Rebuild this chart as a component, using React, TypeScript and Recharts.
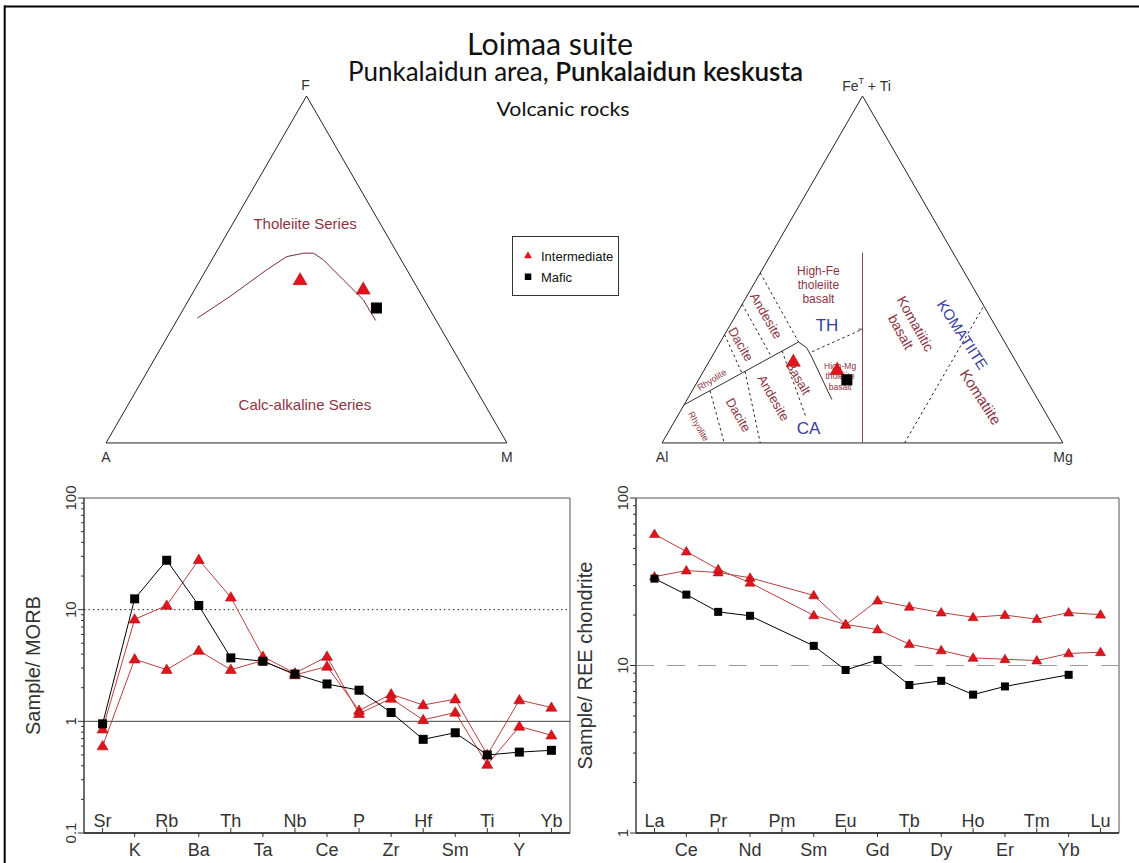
import React from 'react';
import {
  LineChart,
  Line,
  XAxis,
  YAxis,
  ReferenceLine,
  ReferenceArea,
  ScatterChart,
  Scatter,
  Label,
} from 'recharts';

const FONT = '"Liberation Sans", Arial, sans-serif';
const TITLE_FONT = 'Lato, "Open Sans", sans-serif';
const INK = '#333';
const RED = '#e0141c';
const RED_EDGE = '#a31212';
const RED_LINE = '#b8403f';
const FIELD_RED = '#8c3446';
const FIELD_BLUE = '#3b3b9e';

// ---- MORB-normalised spider diagram (left, bottom)
const morbElements = ['Sr', 'K', 'Rb', 'Ba', 'Th', 'Ta', 'Nb', 'Ce', 'P', 'Zr', 'Hf', 'Sm', 'Ti', 'Y', 'Yb'];
const morbMafic = [0.95, 12.5, 27.7, 10.9, 3.7, 3.45, 2.65, 2.16, 1.9, 1.2, 0.69, 0.79, 0.5, 0.53, 0.55];
const morbIntA = [0.85, 8.2, 10.9, 28, 12.9, 3.8, 2.7, 3.8, 1.17, 1.6, 1.03, 1.2, 0.41, 0.9, 0.75];
const morbIntB = [0.6, 3.6, 2.9, 4.3, 2.9, 3.5, 2.6, 3.1, 1.25, 1.75, 1.4, 1.58, 0.5, 1.55, 1.33];

// ---- chondrite-normalised REE diagram (right, bottom)
const reeElements = ['La', 'Ce', 'Pr', 'Nd', 'Pm', 'Sm', 'Eu', 'Gd', 'Tb', 'Dy', 'Ho', 'Er', 'Tm', 'Yb', 'Lu'];
const reeMafic = [33, 26.5, 20.9, 19.8, null, 13.1, 9.4, 10.8, 7.65, 8.1, 6.7, 7.5, null, 8.8, null];
const reeIntA = [60.8, 47.9, 37.5, 31.2, null, 19.9, 17.6, 16.4, 13.4, 12.3, 11.1, 10.9, 10.7, 11.8, 12];
const reeIntB = [33.9, 36.9, 35.9, 33.4, null, 26.2, 17.5, 24.4, 22.4, 20.7, 19.4, 20, 18.9, 20.7, 20.1];

// ---- AFM diagram, [A, F, M] %
type Tern = [number, number, number];
const afmApices = ['A', 'F', 'M'];
const afmBoundary: Tern[] = [
  [59.2, 36, 4.8], [48, 42.2, 9.8], [35, 49.9, 15.1], [28.1, 53.7, 18.2], [23.4, 54.7, 21.9],
  [20.9, 54.7, 24.4], [19.4, 52.8, 27.8], [17.3, 47, 35.7], [15.2, 41.3, 43.5], [15.1, 35.3, 49.6],
];
const afmIntermediate: Tern[] = [[28.1, 47, 24.9], [13.7, 44.3, 42]];
const afmMafic: Tern[] = [[13.1, 38.9, 48]];
const afmFields = [
  { text: ['Tholeiite Series'], at: [18.7, 63.3, 18] as Tern },
  { text: ['Calc-alkaline Series'], at: [44.9, 11, 44.1] as Tern },
];

// ---- Jensen cation plot, [Al, FeT+Ti, Mg] %
const jensenApices = ['Al', 'FeT+Ti', 'Mg'];
const jensenThCa: Tern[] = [[89, 11, 0], [51.4, 29.1, 19.5], [50.2, 27.4, 22.4], [50.3, 24.6, 25.1], [51.4, 12.5, 36.1]];
const jensenAlMg: Tern[] = [[50, 0, 50], [22.6, 54.8, 22.6]];
const jensenTick: Tern[] = [[33.6, 32.8, 33.6], [34.6, 32.8, 32.6]];
const jensenDashed: Tern[][] = [
  [[51, 49, 0], [51.4, 29.1, 19.5]],
  [[60, 40, 0], [60.3, 24.8, 14.9]],
  [[68.8, 31.2, 0], [70, 20.1, 9.9]],
  [[80.5, 15, 4.5], [84.5, 0, 15.5]],
  [[69, 20.6, 10.4], [75.5, 0, 24.5]],
  [[56.8, 26.5, 16.7], [60.4, 7.3, 32.3]],
  [[49.4, 26.3, 24.3], [33.6, 32.8, 33.6]],
  [[39.5, 0, 60.5], [0, 39.5, 60.5]],
];
const jensenIntermediate: Tern[] = [[55.5, 23.5, 21], [45.8, 21.1, 33.1]];
const jensenMafic: Tern[] = [[44.8, 18.2, 37]];
const jensenFields = [
  { text: ['High-Fe', 'tholeiite', 'basalt'], at: [38.2, 45.6, 16.2] as Tern },
  { text: ['TH'], at: [41.8, 34.1, 24.1] as Tern },
  { text: ['CA'], at: [61.3, 4.3, 34.4] as Tern },
  { text: ['Andesite'], at: [55.8, 36.7, 7.6] as Tern },
  { text: ['Dacite'], at: [66.1, 28.5, 5.4] as Tern },
  { text: ['Rhyolite'], at: [78.4, 18.2, 3.3] as Tern },
  { text: ['Basalt'], at: [56.6, 18.7, 24.7] as Tern },
  { text: ['Andesite'], at: [65.7, 13, 21.3] as Tern },
  { text: ['Dacite'], at: [76.9, 8.1, 15] as Tern },
  { text: ['Rhyolite'], at: [88.5, 4.8, 6.7] as Tern },
  { text: ['High-Mg', 'tholeiite', 'basalt'], at: [45.9, 19.2, 34.8] as Tern },
  { text: ['Komatiitic', 'basalt'], at: [22, 33.2, 44.8] as Tern },
  { text: ['KOMATIITE'], at: [9.5, 31.2, 59.3] as Tern },
  { text: ['Komatiite'], at: [13.9, 13.2, 72.9] as Tern },
];

// look of the field labels, same order as above
type Look = { size: number; angle: number; blue?: boolean };
const afmLook: Look[] = [
  { size: 15, angle: 0 },
  { size: 15, angle: 0 },
];
const jensenLook: Look[] = [
  { size: 12, angle: 0 },
  { size: 17, angle: 0, blue: true },
  { size: 17, angle: 0, blue: true },
  { size: 13, angle: 60 },
  { size: 13, angle: 60 },
  { size: 9, angle: -32 },
  { size: 13, angle: 60 },
  { size: 13, angle: 60 },
  { size: 13, angle: 60 },
  { size: 9, angle: 60 },
  { size: 8.5, angle: 0 },
  { size: 14, angle: 61 },
  { size: 15, angle: 57, blue: true },
  { size: 15, angle: 57 },
];

const TRI_H = Math.sqrt(3) / 2;
const toXY = (p: Tern) => ({ x: (p[2] + p[1] / 2) / 100, y: (p[1] / 100) * TRI_H });

const NoShape = () => <g />;

const triangle = (cx: number, cy: number, w: number, h: number) =>
  `${cx},${cy - h * 0.6} ${cx - w / 2},${cy + h * 0.4} ${cx + w / 2},${cy + h * 0.4}`;

const TriMarker = (w: number, h: number) => (p: any) => (
  <polygon points={triangle(p.cx, p.cy, w, h)} fill={RED} stroke={RED_EDGE} strokeWidth={0.6} />
);
const SqMarker = (s: number) => (p: any) => (
  <rect x={p.cx - s / 2} y={p.cy - s / 2} width={s} height={s} fill="#000" />
);

const fieldShape = (look: Look[]) => (p: any) => {
  const { cx, cy, payload } = p;
  const lk = look[payload.k];
  const n = payload.text.length;
  const lh = lk.size * 1.2;
  return (
    <text
      transform={`translate(${cx},${cy}) rotate(${lk.angle})`}
      textAnchor="middle"
      fontSize={lk.size}
      fill={lk.blue ? FIELD_BLUE : FIELD_RED}
    >
      {payload.text.map((t: string, i: number) => (
        <tspan key={i} x={0} y={(i - (n - 1) / 2) * lh + lk.size * 0.35}>
          {t}
        </tspan>
      ))}
    </text>
  );
};

const apexShape = (p: any) => {
  const { cx, cy, payload } = p;
  const name: string = payload.name;
  if (payload.pos === 'top') {
    if (name === 'FeT+Ti') {
      return (
        <text x={cx + 4} y={cy - 5} textAnchor="middle" fontSize={14} fill={INK}>
          Fe<tspan dy={-7} fontSize={9}>T</tspan>
          <tspan dy={7}> + Ti</tspan>
        </text>
      );
    }
    return (
      <text x={cx - 1} y={cy - 6} textAnchor="middle" fontSize={14} fill={INK}>
        {name}
      </text>
    );
  }
  return (
    <text x={cx} y={cy + 19} textAnchor="middle" fontSize={14} fill={INK}>
      {name}
    </text>
  );
};

const polyline = (points: Tern[], key: string, stroke: string, dash?: string) => (
  <Scatter
    key={key}
    data={points.map(toXY)}
    line={{ stroke, strokeWidth: 1, strokeDasharray: dash }}
    lineType="joint"
    shape={NoShape}
    isAnimationActive={false}
  />
);

function Ternary(props: {
  left: number;
  apices: string[];
  fields: { text: string[]; at: Tern }[];
  look: Look[];
  intermediate: Tern[];
  mafic: Tern[];
  children?: React.ReactNode;
}) {
  const outline: Tern[] = [[100, 0, 0], [0, 100, 0], [0, 0, 100], [100, 0, 0]];
  const apexData = [
    { ...toXY([100, 0, 0]), name: props.apices[0], pos: 'left' },
    { ...toXY([0, 100, 0]), name: props.apices[1], pos: 'top' },
    { ...toXY([0, 0, 100]), name: props.apices[2], pos: 'right' },
  ];
  const fieldData = props.fields.map((f, k) => ({ ...toXY(f.at), text: f.text, k }));
  return (
    <div style={{ position: 'absolute', left: props.left, top: 76 }}>
      <ScatterChart width={441} height={407} margin={{ top: 0, right: 0, bottom: 0, left: 0 }}>
        <XAxis type="number" dataKey="x" domain={[-0.05, 1.05]} hide />
        <YAxis type="number" dataKey="y" domain={[-0.1, TRI_H + 0.05]} hide />
        {polyline(outline, 'outline', '#222')}
        {props.children}
        <Scatter data={fieldData} shape={fieldShape(props.look)} isAnimationActive={false} />
        <Scatter data={apexData} shape={apexShape} isAnimationActive={false} />
        <Scatter data={props.intermediate.map(toXY)} shape={TriMarker(14, 12)} isAnimationActive={false} />
        <Scatter data={props.mafic.map(toXY)} shape={SqMarker(11)} isAnimationActive={false} />
      </ScatterChart>
    </div>
  );
}

function Spider(props: {
  left: number;
  width: number;
  marginLeft: number;
  elements: string[];
  mafic: (number | null)[];
  intA: (number | null)[];
  intB: (number | null)[];
  yDomain: [number, number];
  yLabel: string;
  dotW: number;
  sq: number;
  refs: React.ReactNode;
}) {
  const { elements, yDomain } = props;
  const rows = elements.map((name, i) => ({
    i,
    name,
    mafic: props.mafic[i],
    intA: props.intA[i],
    intB: props.intB[i],
  }));
  const ticks: number[] = [];
  for (let d = yDomain[0]; d < yDomain[1] * 0.999; d *= 10) {
    for (let k = 1; k <= 9; k++) ticks.push(+(d * k).toPrecision(3));
  }
  ticks.push(yDomain[1]);

  const LogTick = (p: any) => {
    const v = p.payload.value;
    const lg = Math.log10(v);
    const major = Math.abs(lg - Math.round(lg)) < 1e-6;
    return (
      <g>
        <line x1={p.x} x2={p.x - (major ? 6 : 3)} y1={p.y} y2={p.y} stroke={INK} />
        {major && (
          <text transform={`translate(${p.x - 8},${p.y}) rotate(-90)`} textAnchor="middle" fontSize={15} fill={INK}>
            {String(v)}
          </text>
        )}
      </g>
    );
  };
  const ElemTick = (p: any) => {
    const i = p.payload.value;
    const top = i % 2 === 0;
    return (
      <g>
        <line x1={p.x} x2={p.x} y1={p.y} y2={top ? p.y - 5 : p.y + 4} stroke={INK} />
        <text x={p.x} y={top ? p.y - 6 : p.y + 23} textAnchor="middle" fontSize={18} fill={INK}>
          {elements[i]}
        </text>
      </g>
    );
  };
  const triDot = (p: any) => {
    if (p.cx == null || p.cy == null || p.value == null) return <g key={`t${p.index}`} />;
    return (
      <polygon
        key={`t${p.index}`}
        points={triangle(p.cx, p.cy, props.dotW, props.dotW * 0.85)}
        fill={RED}
        stroke={RED_EDGE}
        strokeWidth={0.6}
      />
    );
  };
  const sqDot = (p: any) => {
    if (p.cx == null || p.cy == null || p.value == null) return <g key={`s${p.index}`} />;
    const s = props.sq;
    return <rect key={`s${p.index}`} x={p.cx - s / 2} y={p.cy - s / 2} width={s} height={s} fill="#000" />;
  };

  return (
    <div style={{ position: 'absolute', left: props.left, top: 460 }}>
      <LineChart
        width={props.width}
        height={403}
        data={rows}
        margin={{ top: 38, right: 10, bottom: 0, left: props.marginLeft }}
      >
        <XAxis
          type="number"
          dataKey="i"
          domain={[-0.58, 14.58]}
          ticks={elements.map((_, i) => i)}
          interval={0}
          allowDataOverflow
          tick={ElemTick}
          tickLine={false}
          tickSize={0}
          tickMargin={0}
          height={30}
          axisLine={{ stroke: '#222', strokeWidth: 1.4 }}
        />
        <YAxis
          type="number"
          scale="log"
          domain={yDomain}
          allowDataOverflow
          ticks={ticks}
          interval={0}
          tick={LogTick}
          tickLine={false}
          tickSize={0}
          tickMargin={0}
          width={40}
          axisLine={{ stroke: INK }}
          label={
            <Label
              content={(lp: any) => {
                const vb = lp.viewBox;
                return (
                  <text
                    transform={`translate(${vb.x - 4},${vb.y + vb.height / 2}) rotate(-90)`}
                    textAnchor="middle"
                    fontSize={20}
                    fill={INK}
                  >
                    {props.yLabel}
                  </text>
                );
              }}
            />
          }
        />
        <ReferenceArea
          x1={-0.58}
          x2={14.58}
          y1={yDomain[0]}
          y2={yDomain[1]}
          fill="none"
          stroke="#555"
          ifOverflow="visible"
        />
        {props.refs}
        <Line type="linear" dataKey="intB" stroke={RED_LINE} strokeWidth={1} dot={triDot} connectNulls isAnimationActive={false} />
        <Line type="linear" dataKey="intA" stroke={RED_LINE} strokeWidth={1} dot={triDot} connectNulls isAnimationActive={false} />
        <Line type="linear" dataKey="mafic" stroke="#000" strokeWidth={1} dot={sqDot} connectNulls isAnimationActive={false} />
      </LineChart>
    </div>
  );
}

export default function App() {
  return (
    <div
      style={{
        position: 'absolute',
        left: 0,
        top: 0,
        width: 1139,
        height: 863,
        background: '#fff',
        fontFamily: FONT,
        overflow: 'hidden',
      }}
    >
      <svg width={1139} height={863} style={{ position: 'absolute', left: 0, top: 0 }}>
        <line x1={4} y1={6.5} x2={1139} y2={6.5} stroke="#000" strokeWidth={2} />
        <line x1={4.7} y1={5.5} x2={4.7} y2={863} stroke="#000" strokeWidth={2} />
        <g fontFamily={TITLE_FONT} fill="#111">
          <text x={550} y={55} fontSize={30} textAnchor="middle" textLength={166} lengthAdjust="spacingAndGlyphs">
            Loimaa suite
          </text>
          <text x={575.5} y={81} fontSize={26} textAnchor="middle" textLength={455} lengthAdjust="spacingAndGlyphs">
            Punkalaidun area, <tspan fontWeight={600}>Punkalaidun keskusta</tspan>
          </text>
          <text x={563} y={116} fontSize={20} textAnchor="middle" textLength={133} lengthAdjust="spacingAndGlyphs">
            Volcanic rocks
          </text>
        </g>
        <g fontFamily={FONT}>
          <rect x={512.5} y={236.5} width={106} height={59} fill="#fff" stroke={INK} strokeWidth={1} />
          <polygon points={triangle(528, 255.5, 8, 7)} fill={RED} />
          <text x={541} y={261} fontSize={13} fill="#111">Intermediate</text>
          <rect x={524.8} y={273.5} width={6.5} height={6.5} fill="#000" />
          <text x={541} y={282} fontSize={13} fill="#111">Mafic</text>
        </g>
      </svg>

      <Ternary
        left={86}
        apices={afmApices}
        fields={afmFields}
        look={afmLook}
        intermediate={afmIntermediate}
        mafic={afmMafic}
      >
        {polyline(afmBoundary, 'afm-boundary', '#7a2b36')}
      </Ternary>

      <Ternary
        left={642}
        apices={jensenApices}
        fields={jensenFields}
        look={jensenLook}
        intermediate={jensenIntermediate}
        mafic={jensenMafic}
      >
        {polyline(jensenAlMg, 'al-mg', '#7d4b4b')}
        {polyline(jensenTick, 'tick', '#444')}
        {jensenDashed.map((seg, i) => polyline(seg, `dash-${i}`, '#222', '2.5 3'))}
        {polyline(jensenThCa, 'th-ca', '#3a2a2a')}
      </Ternary>

      <Spider
        left={0}
        width={580}
        marginLeft={44}
        elements={morbElements}
        mafic={morbMafic}
        intA={morbIntA}
        intB={morbIntB}
        yDomain={[0.1, 100]}
        yLabel="Sample/ MORB"
        dotW={11}
        sq={9}
        refs={[
          <ReferenceLine key="one" y={1} stroke="#444" strokeWidth={1} />,
          <ReferenceLine key="ten" y={10} stroke="#222" strokeDasharray="1.5 3" />,
        ]}
      />

      <Spider
        left={560}
        width={569}
        marginLeft={36}
        elements={reeElements}
        mafic={reeMafic}
        intA={reeIntA}
        intB={reeIntB}
        yDomain={[1, 100]}
        yLabel="Sample/ REE chondrite"
        dotW={10}
        sq={8}
        refs={[<ReferenceLine key="ten" y={10} stroke="#9a9a9a" strokeDasharray="18 13" />]}
      />
    </div>
  );
}
